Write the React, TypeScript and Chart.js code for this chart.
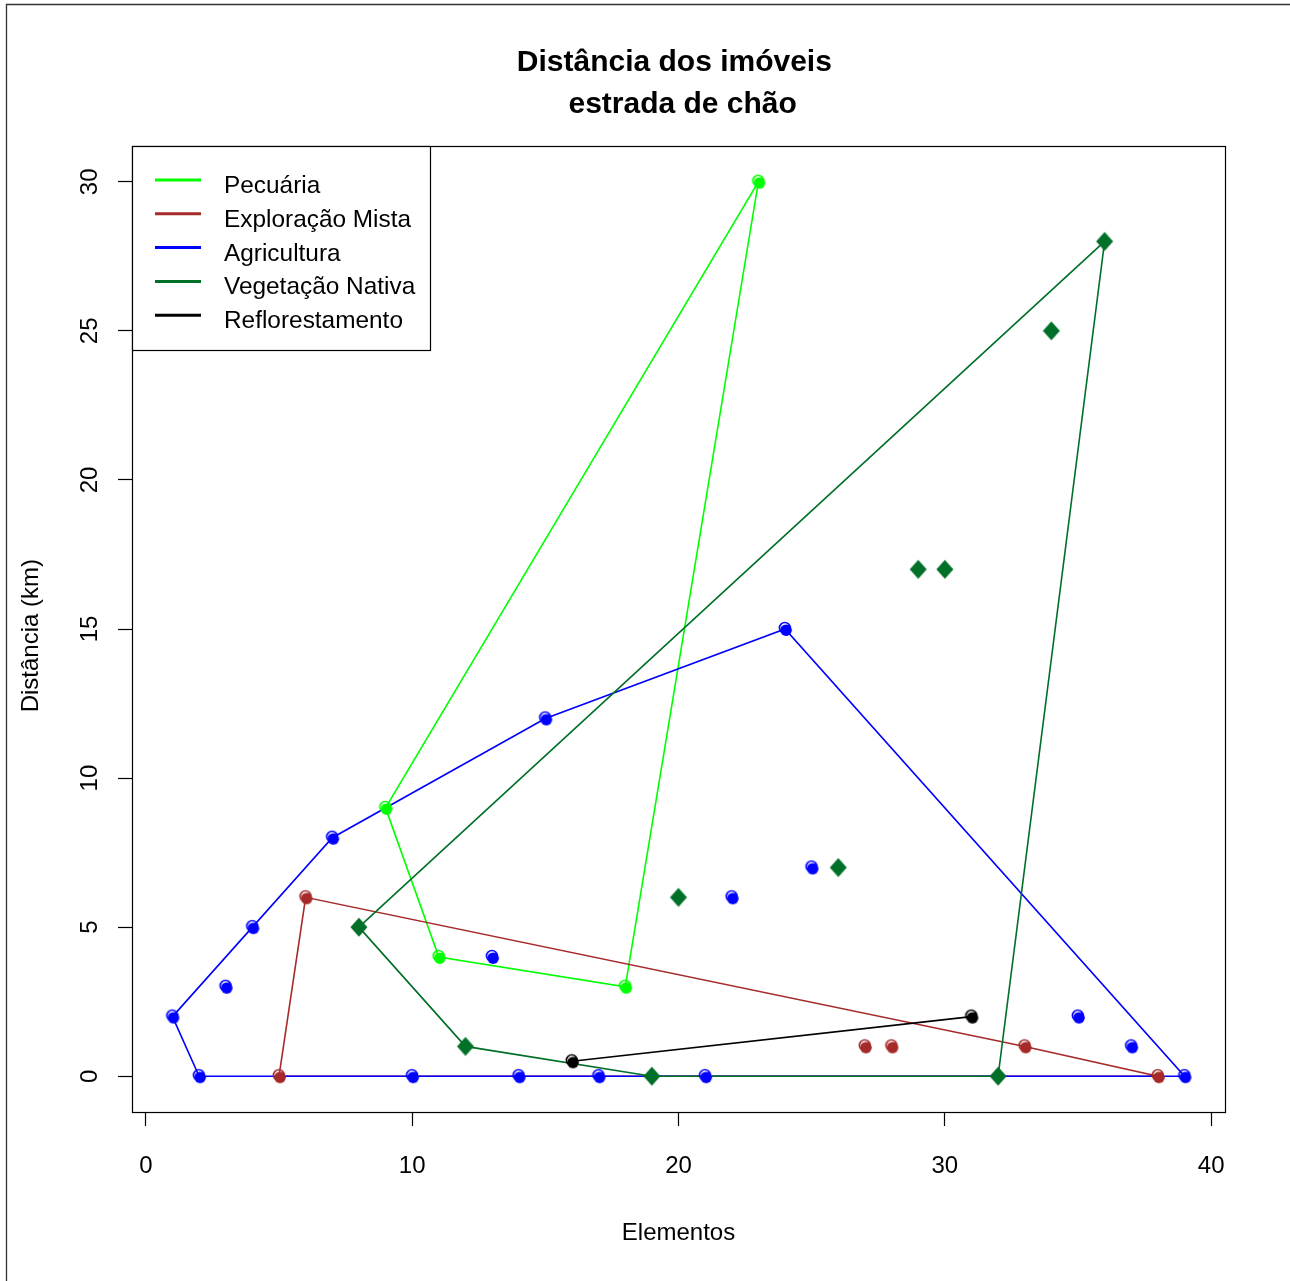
import React, { useEffect, useRef } from "react";
import { Chart, registerables } from "chart.js";

Chart.register(...registerables);

// ---- data ----
const seriesNames = ["Pecuária", "Exploração Mista", "Agricultura", "Vegetação Nativa", "Reflorestamento"];
const seriesColors = ["#00FF00", "#A52A2A", "#0000FF", "#007028", "#000000"];

const pecuariaX = [9, 11, 18, 23];
const pecuariaY = [9, 4, 3, 30];

const mistaX = [5, 6, 27, 28, 33, 38];
const mistaY = [0, 6, 1, 1, 1, 0];

const agriX = [1, 2, 3, 4, 7, 10, 13, 14, 15, 17, 21, 22, 24, 25, 35, 37, 39];
const agriY = [2, 0, 3, 5, 8, 0, 4, 0, 12, 0, 0, 6, 15, 7, 2, 1, 0];

const vegX = [8, 12, 19, 20, 26, 29, 30, 32, 34, 36];
const vegY = [5, 1, 0, 6, 7, 17, 17, 0, 25, 28];

const reflX = [16, 31];
const reflY = [0.5, 2];

const xTicks = [0, 10, 20, 30, 40];
const yTicks = [0, 5, 10, 15, 20, 25, 30];

const titleLines = ["Distância dos imóveis ", " estrada de chão"];
const xTitle = "Elementos";
const yTitle = "Distância (km)  ";

const FONT = "Arial, 'Liberation Sans', Helvetica, sans-serif";

type P = { x: number; y: number };

function toPoints(xs: number[], ys: number[]): P[] {
  return xs.map((x, i) => ({ x, y: ys[i] }));
}

// convex hull (monotone chain), closed polygon
function hull(pts: P[]): P[] {
  const p = [...pts].sort((a, b) => a.x - b.x || a.y - b.y);
  if (p.length < 3) return [...p, p[0]];
  const cross = (o: P, a: P, b: P) => (a.x - o.x) * (b.y - o.y) - (a.y - o.y) * (b.x - o.x);
  const lower: P[] = [];
  for (const q of p) {
    while (lower.length >= 2 && cross(lower[lower.length - 2], lower[lower.length - 1], q) <= 0) lower.pop();
    lower.push(q);
  }
  const upper: P[] = [];
  for (let i = p.length - 1; i >= 0; i--) {
    const q = p[i];
    while (upper.length >= 2 && cross(upper[upper.length - 2], upper[upper.length - 1], q) <= 0) upper.pop();
    upper.push(q);
  }
  upper.pop();
  lower.pop();
  const h = [...lower, ...upper];
  return [...h, h[0]];
}

function circleGlyph(color: string): HTMLCanvasElement {
  const c = document.createElement("canvas");
  c.width = 20;
  c.height = 20;
  const g = c.getContext("2d")!;
  g.fillStyle = color;
  g.beginPath();
  g.arc(11, 11.2, 5.8, 0, Math.PI * 2);
  g.fill();
  g.strokeStyle = color;
  g.lineWidth = 1.6;
  g.beginPath();
  g.arc(9.8, 8.9, 5.4, 0, Math.PI * 2);
  g.stroke();
  return c;
}

function diamondGlyph(color: string): HTMLCanvasElement {
  const c = document.createElement("canvas");
  c.width = 20;
  c.height = 22;
  const g = c.getContext("2d")!;
  g.fillStyle = color;
  g.beginPath();
  g.moveTo(10, 1.5);
  g.lineTo(18.5, 11);
  g.lineTo(10, 20.5);
  g.lineTo(1.5, 11);
  g.closePath();
  g.fill();
  return c;
}

const framePlugin = {
  id: "frameBox",
  beforeDraw(chart: any) {
    const ctx = chart.ctx;
    ctx.save();
    ctx.fillStyle = "#ffffff";
    ctx.fillRect(0, 0, chart.width, chart.height);
    ctx.strokeStyle = "#333333";
    ctx.lineWidth = 1.3;
    ctx.beginPath();
    ctx.moveTo(6.5, chart.height);
    ctx.lineTo(6.5, 4.5);
    ctx.lineTo(chart.width, 4.5);
    ctx.stroke();
    ctx.restore();
  },
  afterDraw(chart: any) {
    const ctx = chart.ctx;
    const a = chart.chartArea;
    ctx.save();
    ctx.strokeStyle = "#000";
    ctx.lineWidth = 1.2;
    ctx.strokeRect(Math.round(a.left) + 0.5, Math.round(a.top) + 0.5, Math.round(a.right - a.left), Math.round(a.bottom - a.top));

    // legend (top-left, inside plot)
    const lx = a.left;
    const ly = a.top;
    const bw = 298;
    const bh = 204;
    ctx.fillStyle = "#fff";
    ctx.fillRect(lx + 1, ly + 1, bw - 1, bh - 1);
    ctx.strokeRect(Math.round(lx) + 0.5, Math.round(ly) + 0.5, bw, bh);
    ctx.font = `24.4px ${FONT}`;
    ctx.textBaseline = "alphabetic";
    ctx.textAlign = "left";
    seriesNames.forEach((name, i) => {
      const y = ly + 34 + i * 33.8;
      ctx.strokeStyle = seriesColors[i];
      ctx.lineWidth = 3;
      ctx.beginPath();
      ctx.moveTo(lx + 23, y);
      ctx.lineTo(lx + 69, y);
      ctx.stroke();
      ctx.fillStyle = "#000";
      ctx.fillText(name, lx + 92, y + 13);
    });
    ctx.restore();
  },
};

export default function App() {
  const ref = useRef<HTMLCanvasElement | null>(null);

  useEffect(() => {
    if (!ref.current) return;
    const groups = [
      toPoints(pecuariaX, pecuariaY),
      toPoints(mistaX, mistaY),
      toPoints(agriX, agriY),
      toPoints(vegX, vegY),
      toPoints(reflX, reflY),
    ];
    const hullSets = groups.map((g, i) => ({
      type: "scatter" as const,
      label: seriesNames[i] + " (hull)",
      data: hull(g),
      showLine: true,
      borderColor: seriesColors[i],
      borderWidth: 1.6,
      pointRadius: 0,
      fill: false,
      tension: 0,
      order: 20 - i,
    }));
    const pointSets = groups.map((g, i) => ({
      type: "scatter" as const,
      label: seriesNames[i],
      data: g,
      showLine: false,
      pointStyle: i === 3 ? diamondGlyph(seriesColors[i]) : circleGlyph(seriesColors[i]),
      pointRadius: 6,
      backgroundColor: seriesColors[i],
      borderColor: seriesColors[i],
      order: 10 - i,
    }));

    const chart = new Chart(ref.current, {
      type: "scatter",
      data: { datasets: [...hullSets, ...pointSets] as any },
      plugins: [framePlugin],
      options: {
        responsive: false,
        animation: false,
        devicePixelRatio: 1,
        layout: { padding: { left: 0, right: 65, top: 0, bottom: 0 } },
        plugins: {
          legend: { display: false },
          tooltip: { enabled: false },
          title: {
            display: true,
            text: titleLines,
            color: "#000",
            fullSize: false,
            font: { family: FONT, size: 30, weight: "bold", lineHeight: "42px" } as any,
            padding: { top: 41.5, bottom: 20.5 },
          },
        },
        scales: {
          x: {
            type: "linear",
            min: -0.52,
            max: 40.52,
            afterBuildTicks: (s: any) => {
              s.ticks = xTicks.map((v) => ({ value: v }));
            },
            afterFit: (s: any) => {
              s.height = 169;
            },
            ticks: { color: "#000", font: { family: FONT, size: 24 }, padding: 25.6, maxRotation: 0, minRotation: 0 },
            grid: { drawOnChartArea: false, drawTicks: true, tickLength: 14, color: "#000", tickColor: "#000", tickWidth: 1.2 },
            border: { display: false },
            title: { display: true, text: xTitle, color: "#000", font: { family: FONT, size: 24 }, padding: { top: 0, bottom: 33.6 } },
          },
          y: {
            type: "linear",
            min: -1.2,
            max: 31.2,
            afterBuildTicks: (s: any) => {
              s.ticks = yTicks.map((v) => ({ value: v }));
            },
            afterFit: (s: any) => {
              s.width = 132;
            },
            ticks: { color: "#000", font: { family: FONT, size: 24 }, padding: 14, minRotation: 90, maxRotation: 90, crossAlign: "center" },
            grid: { drawOnChartArea: false, drawTicks: true, tickLength: 14, color: "#000", tickColor: "#000", tickWidth: 1.2 },
            border: { display: false },
            title: { display: true, text: yTitle, color: "#000", font: { family: FONT, size: 24 }, padding: { top: 16.6, bottom: 0 } },
          },
        },
      } as any,
    });
    return () => chart.destroy();
  }, []);

  return (
    <canvas
      ref={ref}
      width={1290}
      height={1281}
      style={{ position: "absolute", left: 0, top: 0, width: 1290, height: 1281 }}
    />
  );
}
